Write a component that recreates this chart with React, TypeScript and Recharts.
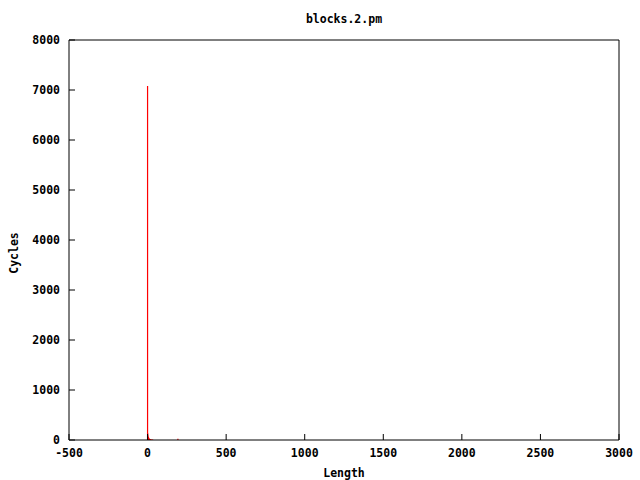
import { Line, LineChart, XAxis, YAxis } from 'recharts'

const lengths = [0, 1, 2, 3, 4, 5, 6, 7, 8, 10, 12, 14, 16, 20, 24, 28, 32, 193]
const cycles = [7080, 140, 110, 90, 70, 60, 50, 45, 40, 30, 25, 20, 18, 15, 12, 10, 8, 25]

const xTicks = [-500, 0, 500, 1000, 1500, 2000, 2500, 3000]
const yTicks = [0, 1000, 2000, 3000, 4000, 5000, 6000, 7000, 8000]

// impulses: go up from 0 to the value, then break the line
const data = lengths.flatMap((x, i) => [
  { x, y: 0 },
  { x, y: cycles[i] },
  { x, y: null },
])

const font = "'DejaVu Sans Mono', monospace"
const tickStyle = { fill: '#000', fontSize: 11.5, fontFamily: font, fontWeight: 'bold' }
const textStyle = {
  position: 'absolute' as const,
  fontFamily: font,
  fontWeight: 'bold',
  fontSize: 11.5,
  color: '#000',
  lineHeight: '14px',
}

export default function App() {
  return (
    <div
      style={{ position: 'absolute', left: 0, top: 0, width: 640, height: 480, background: '#fff' }}
    >
      <LineChart
        width={640}
        height={480}
        data={data}
        margin={{ top: 39, right: 20, bottom: 0, left: 0 }}
      >
        <XAxis
          dataKey="x"
          type="number"
          domain={[-500, 3000]}
          ticks={xTicks}
          allowDataOverflow
          height={40}
          tickSize={-6}
          tickMargin={15}
          stroke="#000"
          tick={tickStyle}
        />
        <XAxis
          xAxisId="top"
          dataKey="x"
          orientation="top"
          type="number"
          domain={[-500, 3000]}
          ticks={xTicks}
          allowDataOverflow
          height={1}
          tickSize={-6}
          tick={false}
          stroke="#000"
        />
        <YAxis
          type="number"
          domain={[0, 8000]}
          ticks={yTicks}
          width={69}
          tickSize={-6}
          tickMargin={15}
          stroke="#000"
          tick={tickStyle}
        />
        <YAxis
          yAxisId="right"
          orientation="right"
          type="number"
          domain={[0, 8000]}
          ticks={yTicks}
          allowDataOverflow
          width={1}
          tickSize={-6}
          tick={false}
          stroke="#000"
        />
        <Line
          xAxisId="top"
          yAxisId="right"
          dataKey="y"
          stroke="transparent"
          dot={false}
          activeDot={false}
          isAnimationActive={false}
        />
        <Line
          dataKey="y"
          type="linear"
          stroke="#ff0000"
          strokeWidth={1.2}
          dot={false}
          activeDot={false}
          connectNulls={false}
          isAnimationActive={false}
        />
      </LineChart>
      <div style={{ ...textStyle, left: 69, width: 550, top: 12, textAlign: 'center' }}>
        blocks.2.pm
      </div>
      <div style={{ ...textStyle, left: 69, width: 550, top: 466, textAlign: 'center' }}>
        Length
      </div>
      <div
        style={{
          ...textStyle,
          left: 14,
          top: 253,
          transform: 'translate(-50%, -50%) rotate(-90deg)',
        }}
      >
        Cycles
      </div>
    </div>
  )
}
